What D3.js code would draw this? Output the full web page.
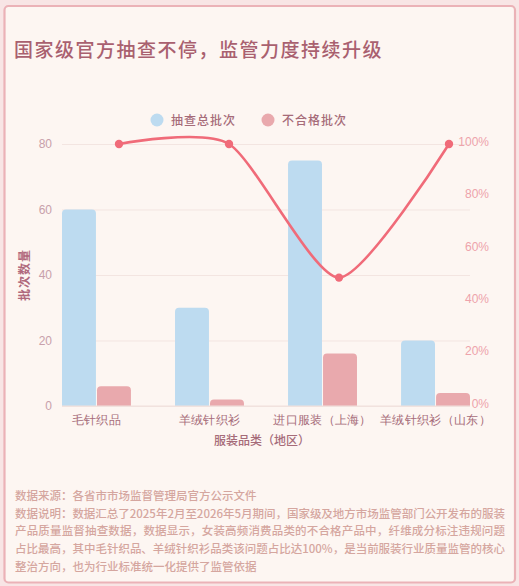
<!DOCTYPE html>
<html><head><meta charset="utf-8">
<script src="https://cdn.jsdelivr.net/npm/d3@7/dist/d3.min.js"></script>
<style>
html,body{margin:0;padding:0;background:#f8e5e5;}
svg{display:block;font-family:"Noto Sans CJK SC","Noto Sans",sans-serif;}
</style></head>
<body>
<svg id="chart" width="519" height="586"></svg>
<script>
const categories = ["毛针织品","羊绒针织衫","进口服装（上海）","羊绒针织衫（山东）"];
const totalBatches = [60, 30, 75, 20];
const failedBatches = [6, 2, 16, 4];
const issueShare = [100, 100, 49, 100];
const leftTicks = [0, 20, 40, 60, 80];
const rightTicks = [0, 20, 40, 60, 80, 100];
const seriesNames = ["抽查总批次", "不合格批次"];
const titleText = "国家级官方抽查不停，监管力度持续升级";
const footerLines = [
  "数据来源：各省市市场监督管理局官方公示文件",
  "数据说明：数据汇总了2025年2月至2026年5月期间，国家级及地方市场监管部门公开发布的服装",
  "产品质量监督抽查数据，数据显示，女装高频消费品类的不合格产品中，纤维成分标注违规问题",
  "占比最高，其中毛针织品、羊绒针织衫品类该问题占比达100%，是当前服装行业质量监管的核心",
  "整治方向，也为行业标准统一化提供了监管依据"
];

const svg = d3.select("#chart");
const W = 519, H = 586;
// card
svg.append("rect").attr("x",0).attr("y",0).attr("width",W).attr("height",H).attr("fill","#f8e5e5");
svg.append("rect").attr("x",4.5).attr("y",6).attr("width",510.5).attr("height",576.5)
  .attr("rx",4).attr("fill","#fdf6f2").attr("stroke","#ebb2b7").attr("stroke-width",2.2);

// title
svg.append("text").attr("x",14).attr("y",57).text(titleText)
  .attr("font-size",19).attr("font-weight",500).attr("letter-spacing",1.5).attr("fill","#a9606f");

// legend
const legendColors = ["#bddbf0","#e9a9ad"];
const legendX = [157, 268];
seriesNames.forEach((n,i)=>{
  svg.append("circle").attr("cx",legendX[i]).attr("cy",120).attr("r",6.5).attr("fill",legendColors[i]);
  svg.append("text").attr("x",legendX[i]+14).attr("y",124.5).text(n)
    .attr("font-size",12).attr("letter-spacing",1).attr("font-weight",500).attr("fill","#a66b79");
});

const x0 = 62, x1 = 470, yTop = 144, yBot = 406;
const y = d3.scaleLinear().domain([0,80]).range([yBot,yTop]);
const yR = d3.scaleLinear().domain([0,100]).range([yBot,yTop]);
const xb = d3.scaleBand().domain(categories).range([x0,x1]).paddingInner(0.39).paddingOuter(0);
const xs = d3.scaleBand().domain(seriesNames).range([0,xb.bandwidth()]).paddingInner(0.03);
const xl = d3.scalePoint().domain(categories).range([x0+57, x1-21]);

// gridlines
const gridAxis = d3.axisLeft(y).tickValues(leftTicks).tickSize(-(x1-x0)).tickFormat(d=>d);
const gL = svg.append("g").attr("transform",`translate(${x0},0)`).call(gridAxis);
gL.select(".domain").remove();
gL.selectAll(".tick line").attr("stroke","#f3e5e1").attr("stroke-width",1);
gL.selectAll(".tick text").attr("x",-10).attr("fill","#c8a0aa").attr("font-size",12)
  .attr("font-family","Liberation Sans, sans-serif");

// right axis
const gR = svg.append("g").attr("transform",`translate(${x1+19},0)`)
  .call(d3.axisRight(yR).tickValues(rightTicks).tickSize(0).tickFormat(d=>d+"%"));
gR.select(".domain").remove();
gR.selectAll(".tick text").attr("x",0).attr("text-anchor","end").attr("dy","0.1em")
  .attr("fill","#eea3ab").attr("font-size",12).attr("font-family","Liberation Sans, sans-serif");

// bars
function topRounded(x, yv, w, h, r){
  r = Math.min(r, h, w/2);
  return `M${x},${yv+h}V${yv+r}Q${x},${yv} ${x+r},${yv}H${x+w-r}Q${x+w},${yv} ${x+w},${yv+r}V${yv+h}Z`;
}
const seriesVals = [totalBatches, failedBatches];
categories.forEach((c,i)=>{
  seriesNames.forEach((s,j)=>{
    const v = seriesVals[j][i];
    const bx = xb(c) + xs(s);
    svg.append("path").attr("d", topRounded(bx, y(v), xs.bandwidth(), y(0)-y(v), 4))
      .attr("fill", legendColors[j]);
  });
});

// baseline
svg.append("line").attr("x1",x0).attr("x2",x1).attr("y1",yBot).attr("y2",yBot)
  .attr("stroke","#f0e0dc").attr("stroke-width",1);

// x axis labels
const gX = svg.append("g").attr("transform",`translate(0,${yBot})`)
  .call(d3.axisBottom(xb).tickSize(0));
gX.select(".domain").remove();
gX.selectAll(".tick text").attr("y",9).attr("dy","0.71em").attr("font-size",12)
  .attr("letter-spacing",0.3).attr("font-weight",500).attr("fill","#a66b79");

// axis titles
svg.append("text").attr("x",262).attr("y",445).attr("text-anchor","middle").text("服装品类（地区）")
  .attr("font-size",12).attr("font-weight",500).attr("fill","#a66b79");
svg.append("text").attr("transform","translate(29,275) rotate(-90)").attr("text-anchor","middle")
  .text("批次数量").attr("font-size",12).attr("font-weight",700).attr("letter-spacing",1).attr("fill","#b0697c");

// line
const line = d3.line().x((d,i)=>xl(categories[i])).y(d=>yR(d)).curve(d3.curveCardinal.tension(0.3));
svg.append("path").datum(issueShare).attr("d",line).attr("fill","none")
  .attr("stroke","#f06b79").attr("stroke-width",2.6);
svg.selectAll(".dot").data(issueShare).enter().append("circle")
  .attr("cx",(d,i)=>xl(categories[i])).attr("cy",d=>yR(d)).attr("r",4.2).attr("fill","#f06b79");

// footer
footerLines.forEach((t,i)=>{
  const tx = svg.append("text").attr("x",15).attr("y",500 + i*17.7).text(t)
    .attr("font-size",11.5).attr("font-weight",500).attr("fill","#d5a69f");
  if (i>=1 && i<=3) tx.attr("textLength",490).attr("lengthAdjust","spacing");
});
</script>
</body></html>
